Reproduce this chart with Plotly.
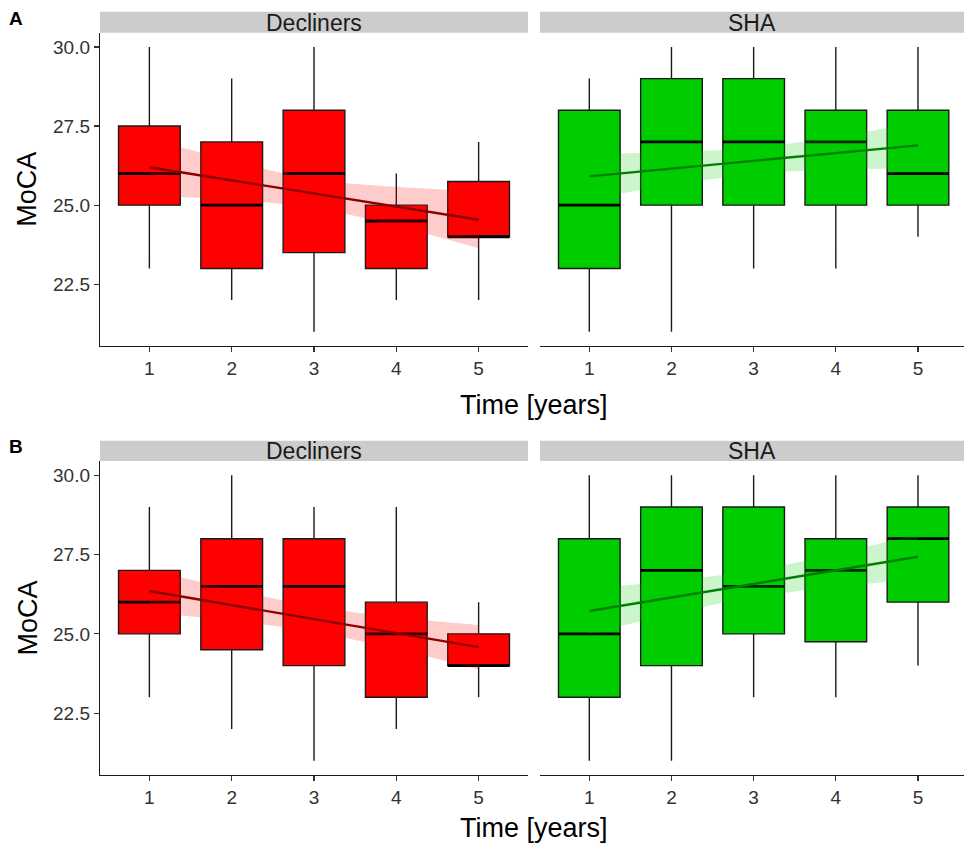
import plotly.graph_objects as go

# ---------------- data ----------------
times = [1, 2, 3, 4, 5]
x_tick_labels = ["1", "2", "3", "4", "5"]
y_ticks = [22.5, 25.0, 27.5, 30.0]
y_tick_labels = ["22.5", "25.0", "27.5", "30.0"]
groups = ["Decliners", "SHA"]
panels = ["A", "B"]

# Panel A - Decliners
a_dec_min = [23, 22, 21, 22, 22]
a_dec_q1 = [25, 23, 23.5, 23, 24]
a_dec_med = [26, 25, 26, 24.5, 24]
a_dec_q3 = [27.5, 27, 28, 25, 25.75]
a_dec_max = [30, 29, 30, 26, 27]
a_dec_fit = [26.2, 25.79, 25.37, 24.96, 24.54]
a_dec_lo = [25.3, 25.17, 24.92, 24.34, 23.64]
a_dec_hi = [27.1, 26.41, 25.82, 25.58, 25.44]

# Panel A - SHA
a_sha_min = [21, 21, 23, 23, 24]
a_sha_q1 = [23, 25, 25, 25, 25]
a_sha_med = [25, 27, 27, 27, 26]
a_sha_q3 = [28, 29, 29, 28, 28]
a_sha_max = [29, 30, 30, 30, 30]
a_sha_fit = [25.91, 26.155, 26.4, 26.645, 26.89]
a_sha_lo = [25.19, 25.635, 25.98, 26.125, 26.17]
a_sha_hi = [26.63, 26.675, 26.82, 27.165, 27.61]

# Panel B - Decliners
b_dec_min = [23, 22, 21, 22, 23]
b_dec_q1 = [25, 24.5, 24, 23, 24]
b_dec_med = [26, 26.5, 26.5, 25, 24]
b_dec_q3 = [27, 28, 28, 26, 25]
b_dec_max = [29, 30, 29, 29, 26]
b_dec_fit = [26.35, 25.91, 25.47, 25.02, 24.58]
b_dec_lo = [25.67, 25.41, 25.07, 24.52, 23.88]
b_dec_hi = [27.03, 26.41, 25.87, 25.52, 25.28]

# Panel B - SHA
b_sha_min = [21, 21, 23, 23, 24]
b_sha_q1 = [23, 24, 25, 24.75, 26]
b_sha_med = [25, 27, 26.5, 27, 28]
b_sha_q3 = [28, 29, 29, 28, 29]
b_sha_max = [30, 30, 30, 30, 30]
b_sha_fit = [25.72, 26.15, 26.575, 27.0, 27.43]
b_sha_lo = [25.0, 25.63, 26.155, 26.48, 26.71]
b_sha_hi = [26.44, 26.67, 26.995, 27.52, 28.15]

# ---------------- styling ----------------
W, H = 964, 845
FONT = "Liberation Sans, Arial, sans-serif"
BOX_FILL = {"Decliners": "#FF0000", "SHA": "#00CD00"}
RIBBON = {"Decliners": "rgba(255,0,0,0.2)", "SHA": "rgba(0,205,0,0.2)"}
LINE = {"Decliners": "#8B0000", "SHA": "#008000"}
BOX_WIDTH = 0.75

def px_x(v):
    return v / W

def px_y(v):
    return 1 - v / H

# layout in pixels
x_dom = {"Decliners": (100, 528), "SHA": (540, 964)}
x_rng = {"Decliners": [0.4, 5.6], "SHA": [0.4, 5.56]}
plot_y = {"A": (32.7, 346), "B": (461, 775)}
strip_y = {"A": (11.7, 32.7), "B": (440.7, 461)}
title_y = {"A": 405, "B": 828}
letter_y = {"A": 18.5, "B": 446.5}

data = {
    ("A", "Decliners"): (a_dec_min, a_dec_q1, a_dec_med, a_dec_q3, a_dec_max, a_dec_fit, a_dec_lo, a_dec_hi),
    ("A", "SHA"): (a_sha_min, a_sha_q1, a_sha_med, a_sha_q3, a_sha_max, a_sha_fit, a_sha_lo, a_sha_hi),
    ("B", "Decliners"): (b_dec_min, b_dec_q1, b_dec_med, b_dec_q3, b_dec_max, b_dec_fit, b_dec_lo, b_dec_hi),
    ("B", "SHA"): (b_sha_min, b_sha_q1, b_sha_med, b_sha_q3, b_sha_max, b_sha_fit, b_sha_lo, b_sha_hi),
}

fig = go.Figure()
layout = dict(
    width=W, height=H, autosize=False,
    margin=dict(l=0, r=0, t=0, b=0),
    paper_bgcolor="white", plot_bgcolor="white",
    showlegend=False,
    font=dict(family=FONT, color="#333333"),
)
shapes = []
annotations = []

idx = 0
for p in panels:
    for g in groups:
        idx += 1
        xa = "x" if idx == 1 else f"x{idx}"
        ya = "y" if idx == 1 else f"y{idx}"
        mn, q1, med, q3, mx, fit, lo, hi = data[(p, g)]

        fig.add_trace(go.Box(
            x=times, q1=q1, median=med, q3=q3, lowerfence=mn, upperfence=mx,
            width=BOX_WIDTH, whiskerwidth=0, boxpoints=False,
            fillcolor=BOX_FILL[g], line=dict(color="#1A1A1A", width=1.4),
            xaxis=xa, yaxis=ya, hoverinfo="skip",
        ))
        # thicker median bars (ggplot fatten)
        mx_seg, my_seg = [], []
        for t, m in zip(times, med):
            mx_seg += [t - BOX_WIDTH / 2, t + BOX_WIDTH / 2, None]
            my_seg += [m, m, None]
        fig.add_trace(go.Scatter(
            x=mx_seg, y=my_seg, mode="lines",
            line=dict(color="#000000", width=2.8),
            xaxis=xa, yaxis=ya, hoverinfo="skip",
        ))
        # confidence ribbon
        fig.add_trace(go.Scatter(
            x=times, y=hi, mode="lines", line=dict(width=0, shape="spline"),
            xaxis=xa, yaxis=ya, hoverinfo="skip",
        ))
        fig.add_trace(go.Scatter(
            x=times, y=lo, mode="lines", line=dict(width=0, shape="spline"),
            fill="tonexty", fillcolor=RIBBON[g],
            xaxis=xa, yaxis=ya, hoverinfo="skip",
        ))
        # fitted line
        fig.add_trace(go.Scatter(
            x=times, y=fit, mode="lines", line=dict(color=LINE[g], width=2.4),
            xaxis=xa, yaxis=ya, hoverinfo="skip",
        ))

        x0, x1 = x_dom[g]
        y0, y1 = plot_y[p]
        layout["xaxis" if idx == 1 else f"xaxis{idx}"] = dict(
            domain=[px_x(x0), px_x(x1)], anchor=ya, range=x_rng[g],
            tickmode="array", tickvals=times, ticktext=x_tick_labels,
            showline=True, linecolor="#1A1A1A", linewidth=1.2,
            ticks="outside", ticklen=5, tickwidth=1.2, tickcolor="#333333",
            tickfont=dict(size=19, color="#333333", family=FONT),
            showgrid=False, zeroline=False, fixedrange=True,
        )
        first = (g == "Decliners")
        layout["yaxis" if idx == 1 else f"yaxis{idx}"] = dict(
            domain=[px_y(y1), px_y(y0)], anchor=xa, range=[20.55, 30.45],
            tickmode="array", tickvals=y_ticks, ticktext=y_tick_labels,
            showline=first, linecolor="#1A1A1A", linewidth=1.2,
            ticks="outside" if first else "", ticklen=5, tickwidth=1.2, tickcolor="#333333",
            showticklabels=first,
            tickfont=dict(size=19, color="#333333", family=FONT),
            showgrid=False, zeroline=False, fixedrange=True,
        )

        # strip
        s0, s1 = strip_y[p]
        shapes.append(dict(
            type="rect", xref="paper", yref="paper",
            x0=px_x(x0), x1=px_x(x1), y0=px_y(s1), y1=px_y(s0),
            fillcolor="#CCCCCC", line=dict(width=0), layer="below",
        ))
        annotations.append(dict(
            text=g, xref="paper", yref="paper",
            x=px_x((x0 + x1) / 2), y=px_y((s0 + s1) / 2 + 0.5),
            xanchor="center", yanchor="middle", showarrow=False,
            font=dict(size=23, color="#1A1A1A", family=FONT),
        ))

    y0, y1 = plot_y[p]
    annotations.append(dict(
        text="MoCA", xref="paper", yref="paper",
        x=px_x(27.5), y=px_y((y0 + y1) / 2), textangle=-90,
        xanchor="center", yanchor="middle", showarrow=False,
        font=dict(size=27, color="#000000", family=FONT),
    ))
    annotations.append(dict(
        text="Time [years]", xref="paper", yref="paper",
        x=px_x(534), y=px_y(title_y[p]),
        xanchor="center", yanchor="middle", showarrow=False,
        font=dict(size=27, color="#000000", family=FONT),
    ))
    annotations.append(dict(
        text="<b>%s</b>" % p, xref="paper", yref="paper",
        x=px_x(16), y=px_y(letter_y[p]),
        xanchor="center", yanchor="middle", showarrow=False,
        font=dict(size=19, color="#000000", family=FONT),
    ))

layout["shapes"] = shapes
layout["annotations"] = annotations
fig.update_layout(**layout)
fig.write_html(
    "out.html",
    config={"displayModeBar": False, "staticPlot": True},
    post_script="document.body.style.margin='0';document.body.style.overflow='hidden';",
)
